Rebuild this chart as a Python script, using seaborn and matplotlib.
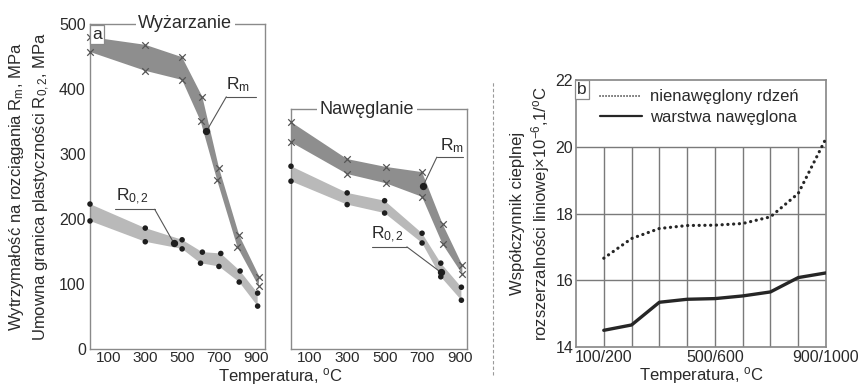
import numpy as np
import pandas as pd
import seaborn as sns
import matplotlib.pyplot as plt
from matplotlib.lines import Line2D

# ---------------- a: Wyzarzanie (annealed) ----------------
wyz_rm_t_up = [0, 300, 500, 610, 700, 810, 920]
wyz_rm_up = [480, 468, 449, 388, 279, 175, 111]
wyz_rm_t_lo = [0, 300, 500, 600, 690, 800, 915]
wyz_rm_lo = [457, 428, 414, 351, 260, 157, 97]
wyz_r02_t_up = [0, 300, 500, 610, 710, 815, 910]
wyz_r02_up = [223, 186, 168, 149, 147, 120, 86]
wyz_r02_t_lo = [0, 300, 500, 600, 700, 810, 910]
wyz_r02_lo = [197, 165, 154, 132, 127, 103, 66]
wyz_rm_dot = (632, 335)
wyz_r02_dot = (455, 163)

# ---------------- a: Naweglanie (carburised) ----------------
naw_rm_t = [0, 300, 505, 700, 810, 915]
naw_rm_up = [349, 292, 280, 272, 192, 129]
naw_rm_lo = [318, 269, 255, 234, 161, 115]
naw_r02_t = [0, 300, 500, 700, 800, 910]
naw_r02_up = [281, 240, 228, 178, 132, 95]
naw_r02_lo = [258, 222, 209, 163, 111, 75]
naw_rm_dot = (704, 250)
naw_r02_dot = (800, 118)

# ---------------- b: thermal expansion ----------------
temp_cats = ["100/200", "200/300", "300/400", "400/500", "500/600",
             "600/700", "700/800", "800/900", "900/1000"]
core = [16.66, 17.25, 17.55, 17.64, 17.65, 17.7, 17.9, 18.6, 20.25]
layer = [14.5, 14.66, 15.34, 15.43, 15.45, 15.53, 15.65, 16.08, 16.22]

sns.set_theme(style="white")
plt.rcParams["font.family"] = ["Liberation Sans", "DejaVu Sans"]
plt.rcParams["mathtext.fontset"] = "custom"
plt.rcParams["mathtext.rm"] = "Liberation Sans"
plt.rcParams["mathtext.it"] = "Liberation Sans"
plt.rcParams["mathtext.default"] = "regular"
txt = "#2a2a2a"
spine = "#8a8a8a"
dark_band = "#8e8e8e"
light_band = "#b9b9b9"

fig = plt.figure(figsize=(8.61, 3.87), dpi=100)
ax1 = fig.add_axes([90/861, 1-349/387, 175/861, 325/387])
ax2 = fig.add_axes([291/861, 1-349/387, 176/861, 240/387])
ax3 = fig.add_axes([576/861, 1-347/387, 250/861, 267/387])


def band(ax, t_up, up, t_lo, lo, color, marker):
    xs = list(t_up) + list(t_lo)[::-1]
    ys = list(up) + list(lo)[::-1]
    ax.fill(xs, ys, color=color, lw=0, zorder=1)
    pts = pd.DataFrame({"t": list(t_up) + list(t_lo), "v": list(up) + list(lo)})
    if marker == "x":
        sns.scatterplot(data=pts, x="t", y="v", marker="x", color="#555555",
                        s=22, linewidth=0.9, ax=ax, clip_on=False, zorder=3)
    else:
        sns.scatterplot(data=pts, x="t", y="v", marker="o", color="#1e1e1e",
                        s=16, edgecolor="none", ax=ax, clip_on=False, zorder=3)


def pointer(ax, label, txy, seg_x, seg_y, start, dot):
    ax.plot([seg_x[0], seg_x[1]], [seg_y, seg_y], color="#555555", lw=0.8, zorder=2)
    ax.plot([start, dot[0]], [seg_y, dot[1]], color="#555555", lw=0.8, zorder=2)
    ax.scatter([dot[0]], [dot[1]], s=18, color="#1e1e1e", zorder=4)
    ax.text(txy[0], txy[1], label, ha="center", va="bottom", fontsize=12.5, color=txt)


def frame(ax, title, tx):
    for s in ax.spines.values():
        s.set_color(spine)
        s.set_linewidth(1.0)
    ax.text(tx, 1.0, title, transform=ax.transAxes, ha="center", va="center",
            fontsize=13, color=txt,
            bbox=dict(facecolor="white", edgecolor="none", pad=2))
    ax.tick_params(axis="both", direction="in", length=3, color=spine,
                   labelsize=11, labelcolor=txt, pad=1.5)
    ax.set_xlabel("")
    ax.set_ylabel("")


# panel a, left
band(ax1, wyz_rm_t_up, wyz_rm_up, wyz_rm_t_lo, wyz_rm_lo, dark_band, "x")
band(ax1, wyz_r02_t_up, wyz_r02_up, wyz_r02_t_lo, wyz_r02_lo, light_band, "o")
pointer(ax1, "R$_m$", (805, 392), (740, 903), 388, 740, wyz_rm_dot)
pointer(ax1, "R$_{0,2}$", (230, 218), (135, 351), 215, 351, wyz_r02_dot)
ax1.set_xlim(0, 950)
ax1.set_ylim(0, 500)
ax1.set_xticks([100, 300, 500, 700, 900])
ax1.set_xticks([200, 400, 600, 800], minor=True)
ax1.set_yticks([0, 100, 200, 300, 400, 500])
frame(ax1, "Wyżarzanie", 0.545)
ax1.tick_params(axis="y", length=0, labelsize=11.5, pad=3)
ax1.tick_params(axis="x", which="minor", direction="in", length=3, color=spine)
ax1.set_ylabel("Wytrzymałość na rozciągania R$_m$, MPa\n"
               "Umowna granica plastyczności R$_{0,2}$, MPa",
               fontsize=12, color=txt, linespacing=1.45)
ax1.yaxis.set_label_coords(-0.215, 0.5)
ax1.text(0.012, 0.99, "a", transform=ax1.transAxes, ha="left", va="top",
         fontsize=12.5, color=txt,
         bbox=dict(boxstyle="square,pad=0.12", facecolor="white", edgecolor=spine, lw=0.9))

# panel a, right
band(ax2, naw_rm_t, naw_rm_up, naw_rm_t, naw_rm_lo, dark_band, "x")
band(ax2, naw_r02_t, naw_r02_up, naw_r02_t, naw_r02_lo, light_band, "o")
pointer(ax2, "R$_m$", (862, 298), (779, 917), 295, 779, naw_rm_dot)
pointer(ax2, "R$_{0,2}$", (515, 160), (432, 619), 157, 619, naw_r02_dot)
ax2.set_xlim(0, 940)
ax2.set_ylim(0, 369)
ax2.set_xticks([100, 300, 500, 700, 900])
ax2.set_xticks([200, 400, 600, 800], minor=True)
ax2.set_yticks(np.arange(0, 351, 50))
ax2.set_yticklabels([])
frame(ax2, "Nawęglanie", 0.43)
ax2.tick_params(axis="x", which="minor", direction="in", length=3, color=spine)
fig.text(280/861, 0, "Temperatura, $^o$C", ha="center", va="bottom",
         fontsize=12, color=txt)

# panel b
xpos = np.arange(1, len(temp_cats) + 1)
df_b = pd.DataFrame({"x": np.r_[xpos, xpos], "v": core + layer,
                     "s": ["nienawęglony rdzeń"] * 9 + ["warstwa nawęglona"] * 9})
ax3.vlines(xpos[:-1], 14, 20, color="#7a7a7a", lw=1.0, zorder=1)
for yv in [16, 18, 20]:
    ax3.axhline(yv, color="#7a7a7a", lw=1.0, zorder=1)
sns.lineplot(data=df_b[df_b.s == "nienawęglony rdzeń"], x="x", y="v", ax=ax3,
             color="#262626", lw=2.3, linestyle=(0, (0.05, 1.75)),
             dash_capstyle="round", label="nienawęglony rdzeń", zorder=3)
sns.lineplot(data=df_b[df_b.s == "warstwa nawęglona"], x="x", y="v", ax=ax3,
             color="#262626", lw=2.4, label="warstwa nawęglona", zorder=3)
ax3.set_xlim(0, 9)
ax3.set_ylim(14, 22)
ax3.set_xticks([1, 5, 9])
ax3.set_xticklabels([temp_cats[0], temp_cats[4], temp_cats[8]])
ax3.set_yticks([14, 16, 18, 20, 22])
for s in ax3.spines.values():
    s.set_color(spine)
ax3.tick_params(axis="both", length=0, labelsize=11.5, labelcolor=txt, pad=2)
ax3.set_xlabel("Temperatura, $^o$C", fontsize=12, color=txt, labelpad=0)
ax3.set_ylabel("Współczynnik cieplnej\nrozszerzalności liniowej×10$^{-6}$,1/$^o$C",
               fontsize=12, color=txt, linespacing=1.25)
ax3.yaxis.set_label_coords(-0.095, 0.5)
leg = ax3.legend(loc="upper left", bbox_to_anchor=(0.096, 0.965), frameon=False,
                 fontsize=12, handlelength=2.5, handletextpad=0.5, labelspacing=0.35,
                 borderpad=0, borderaxespad=0, labelcolor=txt)
leg.get_lines()[0].set_linewidth(1.2)
leg.get_lines()[1].set_linewidth(1.6)
ax3.text(0.005, 0.993, "b", transform=ax3.transAxes, ha="left", va="top",
         fontsize=12.5, color=txt,
         bbox=dict(boxstyle="square,pad=0.12", facecolor="white", edgecolor=spine, lw=0.9))

# dashed separator between panels
fig.add_artist(Line2D([493/861, 493/861], [1-375/387, 1-82/387], color="#9a9a9a",
                      lw=0.8, linestyle=(0, (3, 2))))

fig.savefig("out.png", dpi=100)
